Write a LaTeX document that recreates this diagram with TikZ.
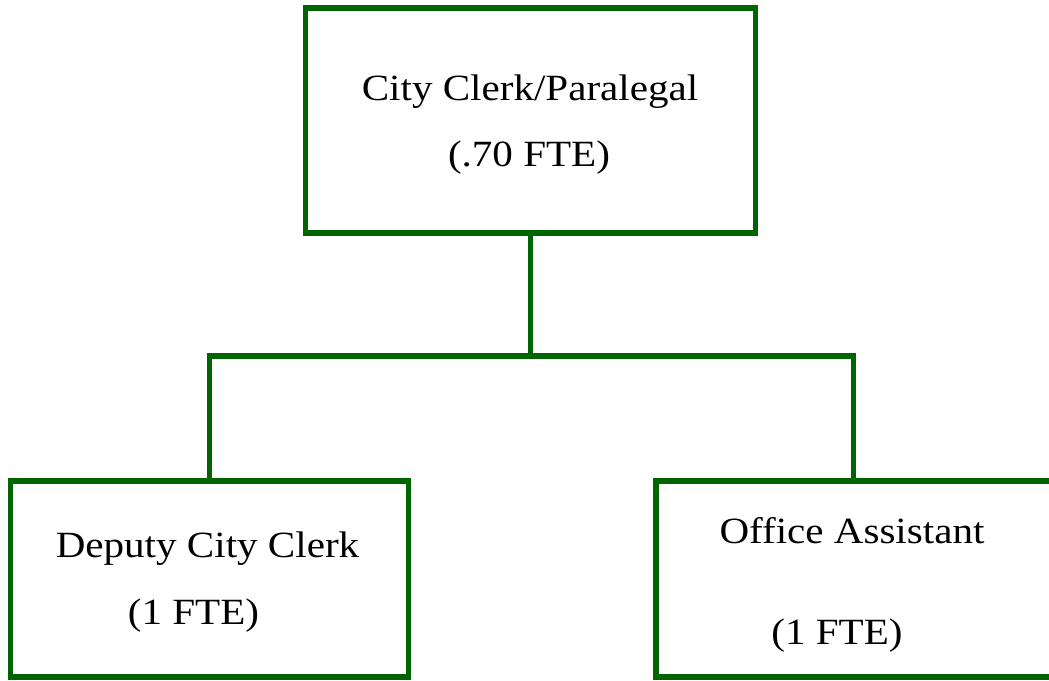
\documentclass[tikz,border=0pt]{standalone}
\usepackage{fontspec}
\setmainfont{Liberation Serif}[FakeStretch=1.11]
\definecolor{orggreen}{RGB}{0,100,0}
\tikzset{
  orgbox/.style={draw=orggreen, line width=5.5pt, line join=miter, inner sep=0pt, fill=none},
  orglink/.style={draw=orggreen, line width=5.5pt, line join=miter},
  orgtext/.style={anchor=base, inner sep=0pt, font=\fontsize{37}{42}\selectfont}
}
\begin{document}
\begin{tikzpicture}[x=1pt, y=-1pt]
  \useasboundingbox (0,0) rectangle (1049,680);
  \clip (0,0) rectangle (1049,680);

  % boxes
  \node[orgbox, minimum width=450pt, minimum height=225pt] (clerk) at (530.5,120.5) {};
  \node[orgbox, minimum width=398pt, minimum height=196pt] (deputy) at (209.5,579) {};
  \node[orgbox, minimum width=398pt, minimum height=196pt] (office) at (855,579) {};

  % connectors
  \coordinate (hub) at (530.5,356);
  \coordinate (drop) at (853.5,480);
  \draw[orglink] (clerk.south) -- (hub);
  \draw[orglink] (deputy.north) |- (hub) -| (drop);

  % labels
  \node[orgtext] (t1) at (530,100) {City Clerk/Paralegal};
  \node[orgtext] (t2) at (529,166) {(.70 FTE)};
  \node[orgtext] (d1) at (207.5,557) {Deputy City Clerk};
  \node[orgtext] (d2) at (193.5,624) {(1 FTE)};
  \node[orgtext] (o1) at (852,543) {Office Assistant};
  \node[orgtext] (o2) at (837,644) {(1 FTE)};
\end{tikzpicture}
\end{document}
